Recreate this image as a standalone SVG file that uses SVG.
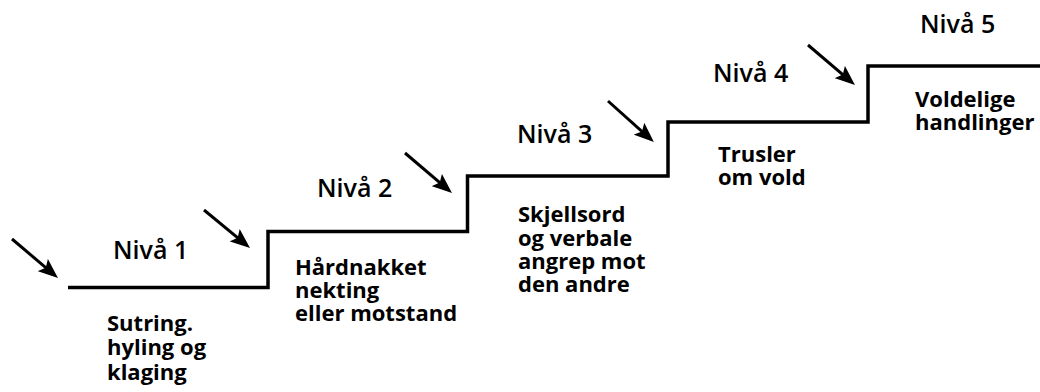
<svg xmlns="http://www.w3.org/2000/svg" width="1040" height="392" viewBox="0 0 1040 392">
  <style>
    .step { fill: none; stroke: #000; stroke-width: 3.5; stroke-linejoin: miter; }
    .arrow { fill: none; stroke: #000; stroke-width: 3; marker-end: url(#head); }
    .level { font-family: "Open Sans", "Liberation Sans", sans-serif; font-weight: 600; font-size: 25px; fill: #000; }
    .desc { font-family: "Open Sans", "Liberation Sans", sans-serif; font-weight: 700; font-size: 22px; fill: #000; }
  </style>
  <defs>
    <marker id="head" viewBox="0 0 20 16" refX="14" refY="8" markerWidth="20" markerHeight="16" markerUnits="userSpaceOnUse" orient="auto">
      <path d="M0,0 L20,8 L0,16 L4,8 Z" fill="#000"/>
    </marker>
  </defs>
  <rect width="1040" height="392" fill="#fff"/>

  <!-- staircase -->
  <g id="stairs">
    <path class="step" d="M68,287.5 H268 V231.5 H467.5 V176 H668 V122 H868 V66 H1040"/>
  </g>

  <!-- arrows pointing at each step -->
  <g id="connectors">
    <path class="arrow" d="M12,239 L53.4,274.1"/>
    <path class="arrow" d="M204,210 L245.4,244.1"/>
    <path class="arrow" d="M405,153 L447.4,189.1"/>
    <path class="arrow" d="M608,101 L649.4,138.1"/>
    <path class="arrow" d="M808,45 L850.4,81.1"/>
  </g>

  <g id="level1">
    <text class="level" x="113" y="259">Nivå 1</text>
    <text class="desc" x="107" y="331">Sutring.</text>
    <text class="desc" x="107" y="355">hyling og</text>
    <text class="desc" x="107" y="380">klaging</text>
  </g>

  <g id="level2">
    <text class="level" x="317" y="197">Nivå 2</text>
    <text class="desc" x="295" y="275">Hårdnakket</text>
    <text class="desc" x="295" y="298">nekting</text>
    <text class="desc" x="295" y="321">eller motstand</text>
  </g>

  <g id="level3">
    <text class="level" x="517" y="143">Nivå 3</text>
    <text class="desc" x="518" y="222">Skjellsord</text>
    <text class="desc" x="518" y="246">og verbale</text>
    <text class="desc" x="518" y="269">angrep mot</text>
    <text class="desc" x="518" y="292">den andre</text>
  </g>

  <g id="level4">
    <text class="level" x="713" y="82">Nivå 4</text>
    <text class="desc" x="718" y="162">Trusler</text>
    <text class="desc" x="718" y="185">om vold</text>
  </g>

  <g id="level5">
    <text class="level" x="920" y="33">Nivå 5</text>
    <text class="desc" x="915" y="107">Voldelige</text>
    <text class="desc" x="915" y="130">handlinger</text>
  </g>
</svg>
